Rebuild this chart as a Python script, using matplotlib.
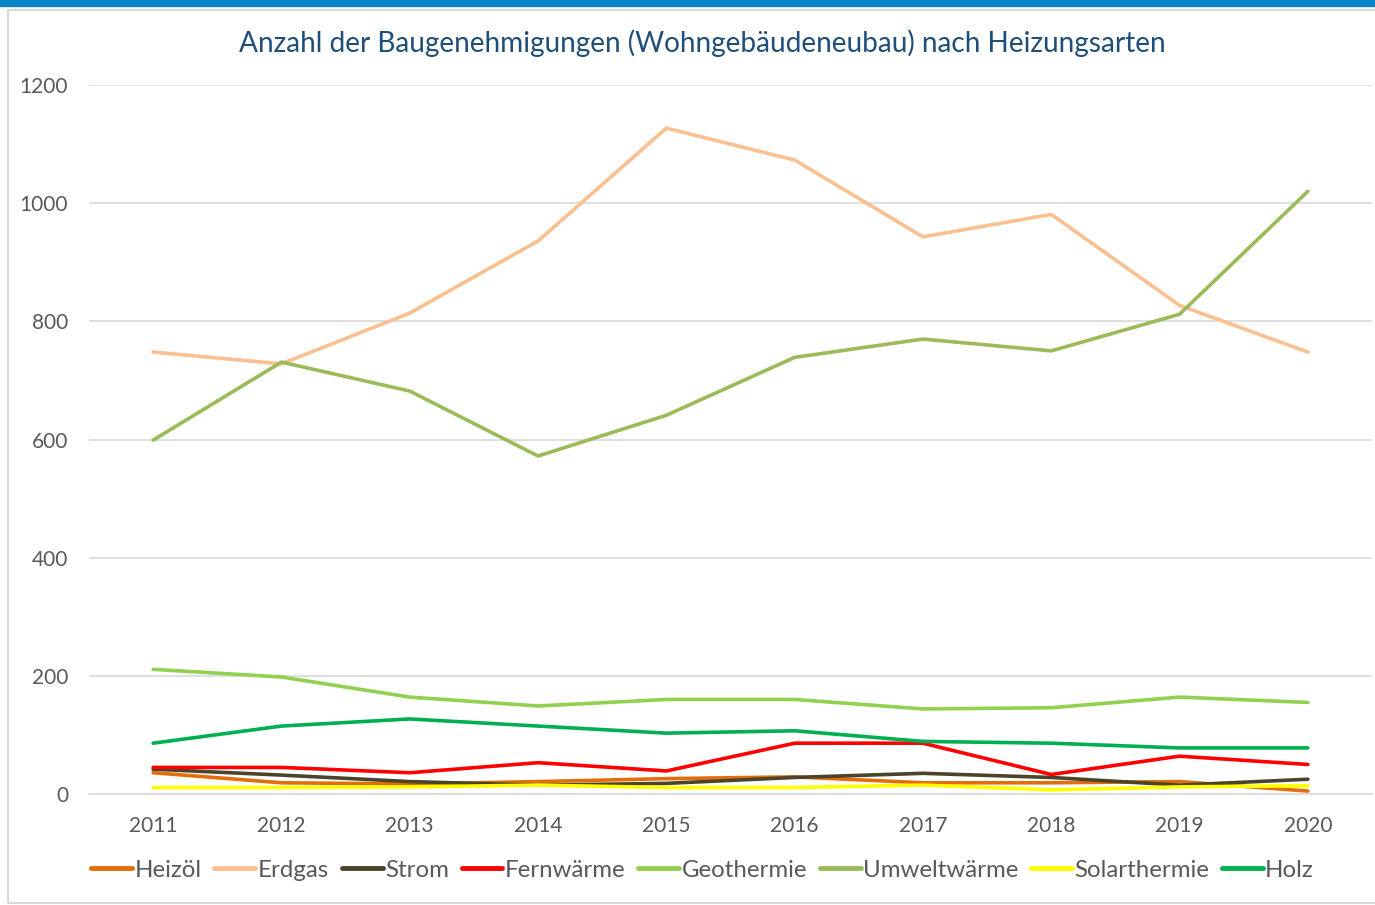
import matplotlib.pyplot as plt
from matplotlib.patches import Rectangle

years = ['2011', '2012', '2013', '2014', '2015', '2016', '2017', '2018', '2019', '2020']

heizoel = [36, 19, 17, 21, 26, 29, 19, 19, 21, 5]
erdgas = [748, 728, 814, 936, 1127, 1073, 943, 981, 827, 748]
strom = [42, 32, 21, 15, 18, 28, 35, 28, 15, 25]
fernwaerme = [45, 45, 36, 53, 39, 86, 86, 33, 64, 50]
geothermie = [211, 198, 164, 149, 160, 160, 144, 146, 164, 155]
umweltwaerme = [599, 731, 682, 572, 641, 739, 770, 750, 812, 1020]
solarthermie = [11, 11, 12, 15, 11, 11, 15, 7, 12, 14]
holz = [86, 115, 127, 115, 103, 107, 89, 86, 78, 78]

names = ['Heizöl', 'Erdgas', 'Strom', 'Fernwärme', 'Geothermie', 'Umweltwärme', 'Solarthermie', 'Holz']
series = [heizoel, erdgas, strom, fernwaerme, geothermie, umweltwaerme, solarthermie, holz]
colors = ['#E46C0A', '#FAC090', '#4A452A', '#FF0000', '#92D050', '#9BBB59', '#FFFF00', '#00B050']

plt.rcParams['font.family'] = ['Lato', 'DejaVu Sans']

fig = plt.figure(figsize=(13.75, 9.05), dpi=100)

# blue band on top and light frame round the chart
fig.patches.append(Rectangle((0, 1 - 6 / 905), 1, 6 / 905, transform=fig.transFigure,
                             color='#0A84C6', zorder=0))
fig.patches.append(Rectangle((8 / 1375, 2 / 905), 1, 1 - 12 / 905, transform=fig.transFigure,
                             facecolor='none', edgecolor='#D9D9D9', lw=1.5, zorder=0))

ax = fig.add_axes([89 / 1375, 1 - 794 / 905, (1372 - 89) / 1375, (794 - 85) / 905])

x = list(range(len(years)))
for name, vals, c in zip(names, series, colors):
    ax.plot(x, vals, color=c, lw=2.6, label=name, solid_capstyle='round')

ax.set_xlim(-0.5, len(years) - 0.5)
ax.set_ylim(0, 1200)
ax.set_yticks(range(0, 1201, 200))
ax.set_xticks(x)
ax.set_xticklabels(years)
ax.grid(axis='y', color='#D9D9D9', lw=1.2)
ax.set_axisbelow(True)
for s in ['top', 'right', 'left']:
    ax.spines[s].set_visible(False)
ax.spines['bottom'].set_color('#D9D9D9')
ax.spines['bottom'].set_linewidth(1.2)
ax.tick_params(length=0, labelsize=15, labelcolor='#595959')
ax.tick_params(axis='x', pad=16)
ax.tick_params(axis='y', pad=15)

fig.text(0.511, 1 - 43 / 905, 'Anzahl der Baugenehmigungen (Wohngebäudeneubau) nach Heizungsarten',
         ha='center', va='center', fontsize=20.2, color='#1F4E79')

leg = fig.legend(loc='center', bbox_to_anchor=(0.511, 1 - 870 / 905), ncol=8, frameon=False,
                 fontsize=17.3, handlelength=1.7, handletextpad=0.1, columnspacing=0.53,
                 labelcolor='#595959')
for h in leg.get_lines():
    h.set_linewidth(3.5)

fig.savefig('out.png', dpi=100)
